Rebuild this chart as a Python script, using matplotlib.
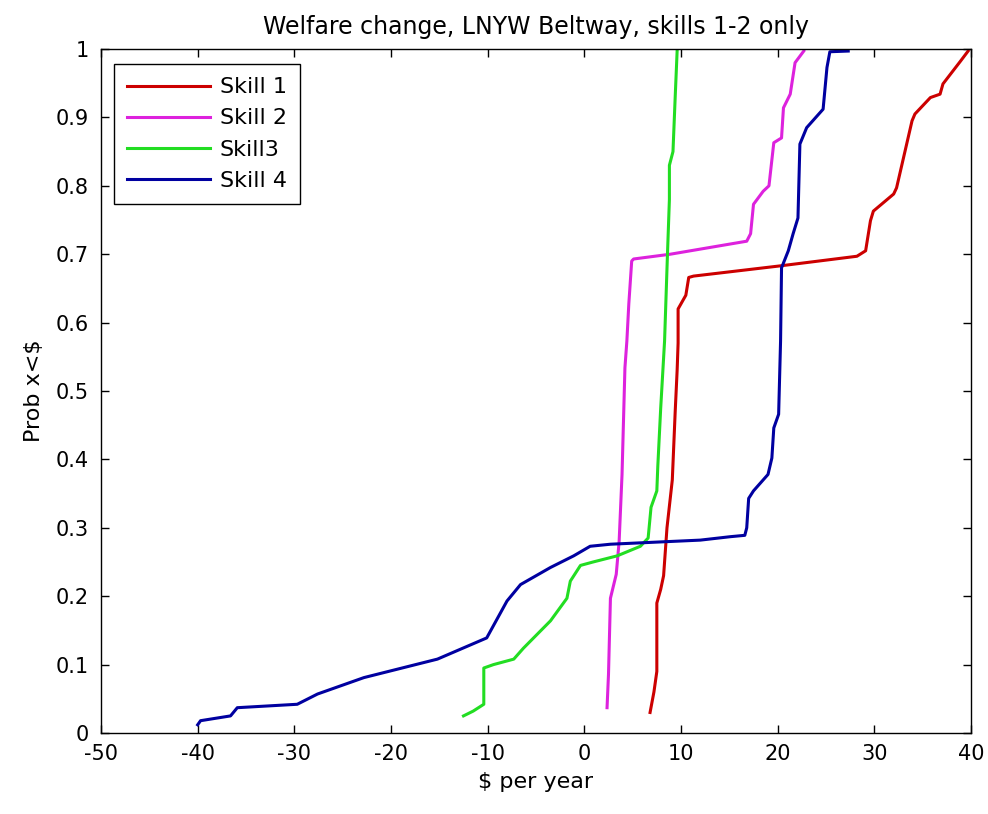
import matplotlib.pyplot as plt
import numpy as np

# values
skill1_x = [6.8, 7.2, 7.5, 7.5, 7.9, 8.2, 8.55, 9.1, 9.4, 9.6, 9.7, 9.7, 10.5, 10.8, 11.3,
            20.3, 28.2, 29.1, 29.6, 29.9, 32.0, 32.3, 33.9, 34.2, 35.8, 36.8, 37.1, 38.9, 39.7]
skill1_y = [0.03, 0.06, 0.09, 0.19, 0.21, 0.23, 0.30, 0.37, 0.47, 0.53, 0.57, 0.62, 0.64, 0.666, 0.668,
            0.683, 0.697, 0.705, 0.749, 0.763, 0.788, 0.797, 0.895, 0.905, 0.929, 0.934, 0.949, 0.982, 0.997]

skill2_x = [2.35, 2.5, 2.7, 3.3, 3.6, 3.9, 4.2, 4.4, 4.6, 4.9, 5.1, 8.9, 16.8, 17.2, 17.5,
            18.5, 19.1, 19.6, 20.4, 20.6, 21.3, 21.8, 22.7]
skill2_y = [0.037, 0.086, 0.197, 0.232, 0.28, 0.378, 0.534, 0.573, 0.627, 0.69, 0.693, 0.70, 0.719, 0.73, 0.773,
            0.792, 0.80, 0.863, 0.870, 0.914, 0.934, 0.98, 0.997]

skill3_x = [-12.5, -11.5, -10.4, -10.4, -9.4, -7.3, -6.3, -3.5, -1.8, -1.45, -0.4, 0.9, 3.4, 5.8,
            6.6, 6.9, 7.5, 7.6, 7.9, 8.3, 8.6, 8.8, 8.8, 9.17, 9.4, 9.6]
skill3_y = [0.025, 0.032, 0.042, 0.095, 0.10, 0.108, 0.124, 0.164, 0.197, 0.222, 0.245, 0.25, 0.259, 0.273,
            0.285, 0.33, 0.354, 0.39, 0.475, 0.573, 0.70, 0.78, 0.83, 0.85, 0.93, 0.997]

skill4_x = [-40, -39.7, -36.6, -35.9, -29.7, -27.6, -22.8, -15.2, -10.1, -8.0, -6.6, -3.5, -1.1, 0.6,
            2.7, 12, 15.1, 16.6, 16.8, 17, 17.5, 19, 19.4, 19.6, 20.1, 20.3, 20.4, 21.1, 21.6, 22.1,
            22.3, 23, 24.7, 25.1, 25.4, 27.3]
skill4_y = [0.012, 0.018, 0.025, 0.037, 0.042, 0.057, 0.081, 0.108, 0.139, 0.193, 0.217, 0.242, 0.259, 0.273,
            0.276, 0.282, 0.287, 0.289, 0.30, 0.343, 0.354, 0.378, 0.402, 0.446, 0.466, 0.573, 0.68, 0.705, 0.73, 0.753,
            0.861, 0.885, 0.912, 0.973, 0.996, 0.997]

labels = ['Skill 1', 'Skill 2', 'Skill3', 'Skill 4']
colors = ['#cc0000', '#dd22dd', '#22dd22', '#0000a0']

plt.rcParams['font.family'] = ['DejaVu Sans']
plt.rcParams['axes.unicode_minus'] = False

fig = plt.figure(figsize=(9.88, 8.14), dpi=100)
ax = fig.add_axes([101 / 988, 1 - 733 / 814, 870 / 988, 684 / 814])

series = [(skill1_x, skill1_y), (skill2_x, skill2_y), (skill3_x, skill3_y), (skill4_x, skill4_y)]
for (xs, ys), lab, c in zip(series, labels, colors):
    ax.plot(xs, ys, color=c, lw=2.2, label=lab)

ax.set_xlim(-50, 40)
ax.set_ylim(0, 1)
ax.set_xticks(np.arange(-50, 41, 10))
ax.set_yticks(np.arange(0, 1.01, 0.1))
ax.set_yticklabels(['0', '0.1', '0.2', '0.3', '0.4', '0.5', '0.6', '0.7', '0.8', '0.9', '1'])
ax.tick_params(direction='in', top=True, right=True, length=6, width=1, labelsize=15)
ax.tick_params(axis='y', pad=9)
ax.tick_params(axis='x', pad=8)
for s in ax.spines.values():
    s.set_linewidth(1)

ax.set_title('Welfare change, LNYW Beltway, skills 1-2 only', fontsize=17, pad=11)
ax.set_xlabel(r'\$ per year', fontsize=16, labelpad=6)
ax.set_ylabel(r'Prob x<\$', fontsize=16, labelpad=8)

leg = ax.legend(loc='upper left', bbox_to_anchor=(0.015, 0.978), borderaxespad=0,
                fontsize=16, handlelength=3.7, labelspacing=0.5, fancybox=False,
                framealpha=1, edgecolor='black', borderpad=0.6, handletextpad=0.45)
leg.get_frame().set_linewidth(1)

fig.savefig('out.png', dpi=100, facecolor='white')
